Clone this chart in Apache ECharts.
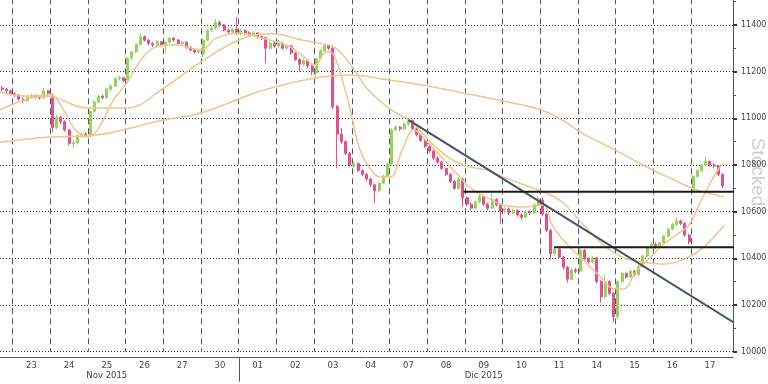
<!DOCTYPE html>
<html><head><meta charset="utf-8">
<script src="https://cdn.jsdelivr.net/npm/echarts@6/dist/echarts.min.js"></script>
<style>html,body{margin:0;padding:0;background:#fff}#c{width:768px;height:384px}</style>
</head><body><div id="c"></div>
<script>
// ---- data ----
const dayLabels   = ['20','23','24','25','26','27','30','01','02','03','04','07','08','09','10','11','14','15','16','17'];
const monthLabels = ['','','','Nov 2015','','','','','','','','','','Dic 2015','','','','','',''];
const barsPerDay  = [3,9,9,9,9,9,9,9,9,9,9,9,9,9,9,9,9,9,9,8];
const firstHour   = [15,9,9,9,9,9,9,9,9,9,9,9,9,9,9,9,9,9,9,9];
const padSlots = 2;
const yTicks = [10000, 11600, 200];

// [open, close, low, high]
const ohlc = [
 [11130,11125,11115,11138],[11125,11118,11110,11130],[11118,11105,11098,11122],
 [11105,11100,11090,11112],[11100,11082,11076,11104],[11082,11075,11066,11088],[11075,11092,11072,11098],[11092,11098,11086,11106],[11098,11090,11084,11102],[11090,11088,11080,11096],[11088,11118,11085,11128],[11118,11108,11100,11122],
 [11100,10960,10940,11104],[10960,11005,10955,11015],[11005,10985,10975,11010],[10985,10950,10942,10992],[10950,10892,10885,10955],[10892,10895,10870,10905],[10895,10925,10890,10932],[10925,10932,10915,10940],[10932,10928,10918,10942],
 [10928,11030,10925,11035],[11030,11070,11025,11078],[11070,11095,11065,11100],[11095,11088,11080,11102],[11088,11125,11085,11130],[11125,11138,11118,11145],[11138,11170,11135,11176],[11170,11174,11162,11182],[11174,11162,11155,11178],
 [11165,11258,11160,11262],[11258,11285,11250,11290],[11285,11318,11280,11322],[11318,11350,11312,11365],[11350,11335,11328,11355],[11335,11320,11312,11340],[11320,11314,11305,11328],[11314,11328,11310,11335],[11328,11315,11308,11332],
 [11312,11326,11280,11330],[11326,11344,11320,11350],[11344,11336,11328,11348],[11336,11320,11314,11340],[11320,11326,11315,11332],[11326,11305,11298,11330],[11305,11293,11286,11310],[11293,11284,11276,11298],[11284,11290,11278,11296],
 [11275,11335,11262,11340],[11335,11378,11330,11384],[11378,11386,11370,11394],[11386,11412,11380,11425],[11412,11400,11392,11418],[11400,11378,11372,11405],[11378,11370,11362,11384],[11370,11382,11365,11388],[11382,11365,11358,11434],
 [11368,11376,11355,11385],[11376,11366,11358,11382],[11366,11358,11348,11372],[11358,11366,11352,11372],[11366,11350,11342,11370],[11350,11345,11335,11356],[11345,11300,11236,11350],[11300,11322,11295,11330],[11322,11310,11302,11328],
 [11310,11322,11300,11335],[11322,11300,11292,11326],[11300,11310,11295,11318],[11310,11280,11272,11314],[11280,11252,11245,11285],[11252,11232,11200,11258],[11232,11248,11226,11256],[11248,11224,11215,11252],[11224,11200,11185,11230],
 [11195,11255,11172,11260],[11255,11290,11250,11296],[11290,11312,11285,11320],[11312,11300,11292,11316],[11300,11050,11040,11305],[11050,10932,10786,11058],[10932,10900,10890,10958],[10900,10850,10842,10906],[10850,10800,10790,10856],
 [10795,10806,10788,10815],[10806,10776,10768,10810],[10776,10760,10752,10782],[10760,10740,10732,10765],[10740,10715,10706,10745],[10715,10690,10637,10720],[10690,10722,10684,10728],[10722,10752,10718,10758],[10752,10802,10748,10812],
 [10805,10950,10798,10958],[10950,10962,10944,10970],[10962,10955,10946,10968],[10955,10975,10950,10982],[10975,10990,10970,11000],[10990,10955,10948,10994],[10955,10930,10922,10960],[10930,10905,10898,10935],[10905,10880,10872,10910],
 [10880,10860,10852,10885],[10860,10830,10822,10866],[10830,10812,10805,10838],[10812,10785,10778,10818],[10785,10760,10752,10790],[10760,10730,10722,10765],[10730,10700,10692,10736],[10700,10740,10695,10748],[10740,10660,10620,10745],
 [10660,10632,10622,10666],[10632,10615,10605,10640],[10615,10642,10610,10648],[10642,10665,10636,10680],[10665,10632,10625,10670],[10632,10615,10606,10638],[10615,10652,10610,10680],[10652,10630,10622,10658],[10630,10602,10548,10636],
 [10602,10612,10592,10620],[10612,10595,10586,10618],[10595,10606,10590,10612],[10606,10586,10578,10610],[10586,10576,10566,10592],[10576,10600,10572,10606],[10600,10594,10586,10606],[10594,10630,10590,10636],[10630,10655,10625,10665],
 [10650,10590,10582,10662],[10590,10520,10512,10595],[10520,10420,10395,10525],[10420,10440,10412,10452],[10440,10405,10398,10446],[10405,10362,10352,10410],[10362,10310,10295,10368],[10310,10350,10305,10356],[10350,10345,10335,10358],
 [10345,10435,10340,10450],[10435,10400,10392,10440],[10400,10385,10376,10406],[10385,10402,10378,10410],[10402,10300,10292,10406],[10300,10235,10210,10306],[10235,10300,10228,10330],[10300,10250,10242,10306],[10250,10150,10125,10256],
 [10150,10300,10140,10306],[10300,10335,10295,10342],[10335,10320,10312,10340],[10320,10345,10316,10352],[10345,10330,10322,10350],[10330,10365,10326,10372],[10365,10410,10360,10416],[10410,10445,10405,10452],[10445,10460,10440,10470],
 [10460,10450,10440,10468],[10450,10466,10444,10472],[10466,10495,10460,10502],[10495,10525,10490,10532],[10525,10545,10520,10552],[10545,10560,10540,10575],[10560,10550,10542,10566],[10550,10500,10492,10555],[10500,10470,10460,10505],
 [10690,10750,10680,10756],[10750,10776,10745,10782],[10776,10800,10770,10806],[10800,10815,10795,10835],[10815,10800,10792,10820],[10800,10796,10786,10808],[10796,10760,10752,10800],[10760,10710,10700,10765]
];

// moving averages: [bar index, value]
const maFast = [[-0.5,11113],[5.5,11096],[11.5,11100],[14.4,11044],[17.5,10950],[20.6,10920],[23.5,10972],[26.6,11079],[29.8,11152],[33.1,11250],[36.7,11306],[41.5,11315],[47.5,11293],[51.1,11344],[56.6,11366],[61.9,11344],[67.9,11314],[71.5,11272],[74.7,11229],[77.5,11285],[79.2,11272],[81.9,11122],[83.5,11006],[85.2,10877],[87.6,10791],[90.3,10749],[92.7,10749],[95.5,10864],[98.4,10950],[101.5,10899],[105.1,10830],[108.8,10757],[112.4,10693],[116,10658],[119.6,10629],[124.4,10620],[129.2,10629],[131.3,10543],[134.4,10470],[138.5,10397],[142.4,10329],[146.4,10269],[148.4,10269],[151.3,10342],[154.4,10397],[157.7,10457],[160.9,10500],[164,10543],[166.4,10629],[168.8,10714],[171.2,10787],[172.4,10809]];
const maMid = [[-0.5,11036],[10.3,11096],[20.6,11044],[29.8,11044],[38.6,11130],[47.5,11242],[56.6,11336],[64.3,11362],[71.5,11336],[77.8,11314],[80.2,11293],[83.8,11216],[87.4,11122],[92.9,11036],[97.5,10989],[100.3,10937],[103.5,10877],[107.5,10822],[111.6,10792],[115.5,10779],[119.6,10749],[126,10706],[129.9,10680],[134,10637],[138.8,10543],[143.6,10457],[148.4,10402],[153.2,10384],[158,10376],[164,10406],[167.6,10449],[172.4,10543]];
const maSlow = [[-0.5,10898],[11.5,10920],[20.6,10925],[38.6,10993],[47.5,11023],[61,11113],[69.1,11152],[76.3,11177],[83.5,11186],[90.7,11169],[100.3,11143],[110,11109],[119.6,11074],[128.7,11036],[133.7,10993],[138.5,10937],[146.4,10864],[154.4,10787],[160.4,10736],[165.2,10697],[172.4,10663]];

const trendLine = [[97.0,10993],[175.5,10116]];
const levelHigh = [[110.2,10685],[175.5,10685]];
const levelLow  = [[131.8,10448],[175.5,10448]];

// ---- build axis tables ----
const categories = [];
const splitIdx = new Set();
const labelText = {};
let monthStartIdx = -1;
dayLabels.forEach((d, k) => {
  const start = categories.length;
  for (let j = 0; j < barsPerDay[k]; j++) categories.push(d + ' ' + (firstHour[k] + j) + ':00');
  if (k > 0) {
    splitIdx.add(start);
    labelText[start + 4] = monthLabels[k] ? d + '\n' + monthLabels[k] : d;
  }
  if (k > 0 && d === '01') monthStartIdx = start;
});
for (let p = 0; p < padSlots; p++) categories.push('pad' + p);
const nCat = categories.length;

const chart = echarts.init(document.getElementById('c'), null, {renderer: 'canvas'});
const GRID_BOTTOM = 32.33;
const option = {
  animation: false,
  backgroundColor: '#ffffff',
  grid: {left: 0, right: 35, top: -21.67, bottom: GRID_BOTTOM, containLabel: false, outerBoundsMode: 'none'},
  xAxis: [{
    type: 'category', data: categories, boundaryGap: true, offset: 6,
    axisLine: {show: true, onZero: false, lineStyle: {color: '#555', width: 1}},
    axisTick: {show: false},
    axisLabel: {
      interval: (i) => labelText[i] !== undefined,
      formatter: (v, i) => labelText[i] || '',
      fontFamily: 'DejaVu Sans', fontSize: 8.5, color: '#444', lineHeight: 10, margin: 3
    },
    splitLine: {show: true, interval: (i) => splitIdx.has(i), lineStyle: {color: '#555', type: [6, 4], width: 1}}
  }, {
    type: 'value', min: -0.5, max: nCat - 0.5, show: false
  }],
  yAxis: [{
    type: 'value', position: 'right', min: yTicks[0], max: yTicks[1], interval: yTicks[2],
    axisLine: {show: true, onZero: false, lineStyle: {color: '#555', width: 1}},
    axisTick: {show: true, inside: false, length: 4, lineStyle: {color: '#333', width: 2}},
    minorTick: {show: true, splitNumber: 2, length: 3, lineStyle: {color: '#555', width: 1}},
    axisLabel: {fontFamily: 'DejaVu Sans', fontSize: 8, color: '#444', margin: 8, showMaxLabel: false,
                formatter: (v) => String(v)},
    splitLine: {show: true, lineStyle: {color: '#333', type: [1, 2], width: 1}}
  }],
  series: [
    {type: 'candlestick', xAxisIndex: 0, yAxisIndex: 0, data: ohlc, barWidth: 2.5,
     itemStyle: {color: '#94d45a', color0: '#e6508a', borderColor: '#94d45a', borderColor0: '#e6508a', borderWidth: 1}},
    {type: 'line', xAxisIndex: 1, data: maSlow, showSymbol: false, smooth: 0.4, lineStyle: {color: '#f2c48e', width: 1.5}, z: 3},
    {type: 'line', xAxisIndex: 1, data: maMid, showSymbol: false, smooth: 0.4, lineStyle: {color: '#f2c48e', width: 1.5}, z: 3},
    {type: 'line', xAxisIndex: 1, data: maFast, showSymbol: false, smooth: 0.4, lineStyle: {color: '#f2c48e', width: 1.5}, z: 3},
    {type: 'line', xAxisIndex: 1, data: trendLine, showSymbol: false, lineStyle: {color: '#3e5269', width: 2}, z: 4},
    {type: 'line', xAxisIndex: 1, data: levelHigh, showSymbol: false, lineStyle: {color: '#1a1a1a', width: 2}, z: 4},
    {type: 'line', xAxisIndex: 1, data: levelLow, showSymbol: false, lineStyle: {color: '#1a1a1a', width: 2}, z: 4}
  ]
};
chart.setOption(option);

// decorations: month separator below the axis and the rotated watermark
const sepX = Math.round(chart.convertToPixel({xAxisIndex: 1}, monthStartIdx - 0.5)) + 0.5;
const axisY = 384 - GRID_BOTTOM + 6;
chart.setOption({
  graphic: [
    {type: 'line', shape: {x1: sepX, y1: axisY, x2: sepX, y2: axisY + 24}, style: {stroke: '#555', lineWidth: 1}, silent: true},
    {type: 'text', x: 757, y: 172, rotation: -Math.PI / 2,
     style: {text: 'Stocked', fontSize: 19, fontFamily: 'Liberation Sans', fill: '#cfcfcf', align: 'center', verticalAlign: 'middle'}, silent: true}
  ]
});
</script>
</body></html>
